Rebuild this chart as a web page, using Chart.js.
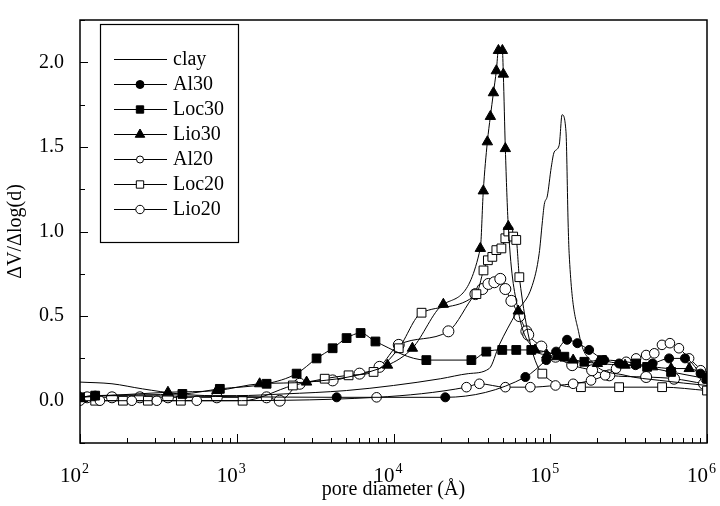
<!DOCTYPE html>
<html>
<head>
<meta charset="utf-8">
<title>Pore size distribution</title>
<script src="https://cdn.jsdelivr.net/npm/chart.js@4.4.1/dist/chart.umd.min.js"></script>
<style>
    html, body { margin: 0; padding: 0; background: #fff; }
    #grafico { display: block; }
</style>
</head>
<body>
<canvas id="grafico" width="720" height="506"></canvas>
<script>
// Series data (pore diameter in Å, dV/dlog(d))
const clayX = [100, 160, 250, 430, 700, 1000, 2000, 5000, 10000, 20000, 30000, 40800, 47300, 60700, 76700, 85000, 88900, 91600, 95800, 101500, 106000, 114000, 119000, 126000, 130000, 132000, 153000, 185000, 300000, 500000, 1000000];
const clayY = [0.11, 0.10, 0.07, 0.04, 0.03, 0.03, 0.04, 0.06, 0.09, 0.13, 0.16, 0.19, 0.33, 0.52, 0.68, 0.87, 1.05, 1.16, 1.21, 1.38, 1.47, 1.51, 1.69, 1.59, 1.05, 0.87, 0.39, 0.23, 0.15, 0.12, 0.09];

const al30X = [100, 125, 4340, 21400, 69400, 94400, 109000, 128000, 149000, 177000, 221000, 275000, 350000, 450000, 573000, 724000, 910000];
const al30Y = [0.02, 0.03, 0.02, 0.02, 0.14, 0.24, 0.29, 0.36, 0.34, 0.30, 0.24, 0.22, 0.21, 0.22, 0.25, 0.25, 0.16];

const loc30X = [100, 125, 450, 780, 1550, 2410, 3230, 4090, 5020, 6170, 7670, 16200, 31400, 39100, 49400, 60700, 75700, 123000, 165000, 214000, 353000, 415000, 590000, 1000000];
const loc30Y = [0.02, 0.03, 0.04, 0.07, 0.10, 0.16, 0.25, 0.31, 0.37, 0.40, 0.35, 0.24, 0.24, 0.29, 0.30, 0.30, 0.30, 0.26, 0.23, 0.24, 0.22, 0.20, 0.17, 0.13];

const lio30X = [100, 364, 746, 1400, 2790, 9160, 13200, 20800, 35800, 37400, 39700, 41500, 43400, 45300, 46700, 49500, 50200, 51700, 54000, 62500, 80000, 95000, 110000, 140000, 200000, 300000, 450000, 590000, 770000, 1000000];
const lio30Y = [0.02, 0.05, 0.06, 0.10, 0.11, 0.21, 0.31, 0.57, 0.90, 1.24, 1.53, 1.68, 1.82, 1.95, 2.07, 2.07, 1.93, 1.49, 1.03, 0.53, 0.30, 0.27, 0.26, 0.24, 0.22, 0.21, 0.20, 0.19, 0.19, 0.14];

const al20X = [100, 134, 214, 309, 556, 7800, 29200, 35300, 51700, 74600, 108000, 140000, 182000, 224000, 263000, 305000, 353000, 409000, 461000, 516000, 580000, 662000, 769000, 912000, 980000];
const al20Y = [0.0, 0.0, 0.0, 0.0, 0.0, 0.02, 0.08, 0.10, 0.08, 0.08, 0.09, 0.10, 0.12, 0.15, 0.19, 0.23, 0.25, 0.27, 0.28, 0.33, 0.34, 0.31, 0.25, 0.18, 0.13];

const loc20X = [125, 188, 271, 440, 1090, 2280, 3640, 5170, 7460, 10800, 15100, 33800, 37500, 40000, 42700, 45300, 48800, 51700, 54000, 58000, 60700, 63500, 89000, 157000, 275000, 517000, 1000000];
const loc20Y = [0.0, 0.0, 0.0, 0.0, 0.0, 0.09, 0.13, 0.15, 0.17, 0.31, 0.52, 0.63, 0.77, 0.83, 0.85, 0.89, 0.90, 0.96, 1.00, 0.97, 0.95, 0.73, 0.16, 0.08, 0.08, 0.08, 0.06];

const lio20X = [111, 160, 241, 364, 746, 1550, 1880, 2520, 4090, 6070, 8140, 10800, 22400, 33300, 36900, 40300, 44000, 48000, 51700, 56500, 63500, 70400, 72400, 87700, 108000, 138000, 185000, 238000, 409000, 616000, 957000];
const lio20Y = [0.02, 0.02, 0.02, 0.02, 0.02, 0.02, 0.0, 0.10, 0.12, 0.16, 0.20, 0.33, 0.41, 0.63, 0.66, 0.69, 0.70, 0.72, 0.66, 0.59, 0.50, 0.41, 0.39, 0.32, 0.26, 0.21, 0.18, 0.15, 0.14, 0.13, 0.10];

// Axis ticks
const xDecades = [2, 3, 4, 5, 6];
const yLabelTicks = [0.0, 0.5, 1.0, 1.5, 2.0];
const yMinorTicks = [-0.25, 0.25, 0.75, 1.25, 1.75, 2.25];

const FONTE = '"Liberation Serif", "DejaVu Serif", "Times New Roman", serif';

function pares(xs, ys) {
    return xs.map(function(x, i) { return { x: x, y: ys[i] }; });
}

function serie(label, xs, ys, estilo, raio, cheio, raioLegenda) {
    return {
        label: label,
        data: pares(xs, ys),
        borderColor: '#000',
        borderWidth: 1,
        cubicInterpolationMode: 'monotone',
        pointStyle: estilo || false,
        pointRadius: estilo ? raio : 0,
        pointBorderWidth: 1,
        pointBorderColor: '#000',
        pointBackgroundColor: cheio ? '#000' : '#fff',
        raioLegenda: raioLegenda
    };
}

const datasets = [
    serie('clay', clayX, clayY, null, 0, false, 0),
    serie('Al30', al30X, al30Y, 'circle', 4.5, true, 4),
    serie('Loc30', loc30X, loc30Y, 'rect', 6.2, true, 5.2),
    serie('Lio30', lio30X, lio30Y, 'triangle', 6, true, 5.5),
    serie('Al20', al20X, al20Y, 'circle', 4.8, false, 3.5),
    serie('Loc20', loc20X, loc20Y, 'rect', 6.2, false, 5.2),
    serie('Lio20', lio20X, lio20Y, 'circle', 5.5, false, 4.2)
];

/**
 * Frame, inward ticks, power-of-ten labels and the boxed legend
 */
const molduraPlugin = {
    id: 'moldura',
    afterDraw: function(chart) {
        const ctx = chart.ctx;
        const area = chart.chartArea;
        const sx = chart.scales.x;
        const sy = chart.scales.y;

        ctx.save();
        ctx.strokeStyle = '#000';
        ctx.lineWidth = 1.5;
        ctx.strokeRect(area.left, area.top, area.right - area.left, area.bottom - area.top);

        // y ticks, pointing inward
        ctx.lineWidth = 1;
        ctx.beginPath();
        yLabelTicks.forEach(function(v) {
            const py = Math.round(sy.getPixelForValue(v)) + 0.5;
            ctx.moveTo(area.left, py);
            ctx.lineTo(area.left + 8, py);
        });
        yMinorTicks.forEach(function(v) {
            const py = Math.round(sy.getPixelForValue(v)) + 0.5;
            ctx.moveTo(area.left, py);
            ctx.lineTo(area.left + 5, py);
        });

        // x ticks, decades and 2..9 minors
        xDecades.forEach(function(d) {
            const px = Math.round(sx.getPixelForValue(Math.pow(10, d))) + 0.5;
            ctx.moveTo(px, area.bottom);
            ctx.lineTo(px, area.bottom - 9);
            if (d < 6) {
                for (let m = 2; m <= 9; m++) {
                    const pm = Math.round(sx.getPixelForValue(m * Math.pow(10, d))) + 0.5;
                    ctx.moveTo(pm, area.bottom);
                    ctx.lineTo(pm, area.bottom - 5);
                }
            }
        });
        ctx.stroke();

        // x labels as 10^n, the "10" ends just at the tick
        ctx.fillStyle = '#000';
        ctx.textBaseline = 'alphabetic';
        xDecades.forEach(function(d) {
            const px = sx.getPixelForValue(Math.pow(10, d));
            ctx.font = '21px ' + FONTE;
            const w1 = ctx.measureText('10').width;
            const x0 = px - w1 + 1;
            ctx.textAlign = 'left';
            ctx.fillText('10', x0, 482);
            ctx.font = '14px ' + FONTE;
            ctx.fillText(String(d), x0 + w1 + 1, 473);
        });

        desenharLegenda(chart, ctx);
        ctx.restore();
    }
};

/**
 * Legend box in the upper left corner
 */
function desenharLegenda(chart, ctx) {
    const caixa = { x: 100.5, y: 24.5, w: 138, h: 218 };
    ctx.lineWidth = 1.2;
    ctx.strokeStyle = '#000';
    ctx.strokeRect(caixa.x, caixa.y, caixa.w, caixa.h);

    chart.data.datasets.forEach(function(ds, i) {
        const y = 59 + i * 25;
        ctx.lineWidth = 1;
        ctx.strokeStyle = '#000';
        ctx.beginPath();
        ctx.moveTo(114, y + 0.5);
        ctx.lineTo(167, y + 0.5);
        ctx.stroke();

        if (ds.pointStyle) {
            ctx.fillStyle = ds.pointBackgroundColor;
            ctx.strokeStyle = '#000';
            Chart.helpers.drawPoint(ctx, {
                pointStyle: ds.pointStyle,
                radius: ds.raioLegenda,
                rotation: 0,
                borderWidth: 1
            }, 140, y + 0.5);
        }

        ctx.fillStyle = '#000';
        ctx.font = '20px ' + FONTE;
        ctx.textAlign = 'left';
        ctx.textBaseline = 'middle';
        ctx.fillText(ds.label, 173, y + 1);
    });
}

function criarGrafico() {
    const ctx = document.getElementById('grafico');

    new Chart(ctx, {
        type: 'line',
        data: { datasets: datasets },
        options: {
            responsive: false,
            animation: false,
            layout: { padding: { top: 13, right: 13, left: 0, bottom: 0 } },
            scales: {
                x: {
                    type: 'logarithmic',
                    min: 100,
                    max: 1000000,
                    grid: { display: false },
                    border: { display: false },
                    ticks: { display: false },
                    title: {
                        display: true,
                        text: 'pore diameter (Å)',
                        color: '#000',
                        font: { family: FONTE, size: 20 },
                        padding: { top: 4, bottom: 4 }
                    },
                    afterFit: function(scale) { scale.height = 63; }
                },
                y: {
                    min: -0.25,
                    max: 2.25,
                    grid: { display: false },
                    border: { display: false },
                    ticks: {
                        stepSize: 0.25,
                        autoSkip: false,
                        padding: 8,
                        color: '#000',
                        font: { family: FONTE, size: 20 },
                        callback: function(v) {
                            return (Math.abs(v * 2 - Math.round(v * 2)) < 1e-6 && v >= 0 && v <= 2) ? v.toFixed(1) : '';
                        }
                    },
                    title: {
                        display: true,
                        text: 'ΔV/Δlog(d)',
                        color: '#000',
                        font: { family: FONTE, size: 20 },
                        padding: { top: 4, bottom: 4 }
                    },
                    afterFit: function(scale) { scale.width = 80; }
                }
            },
            plugins: {
                legend: { display: false },
                tooltip: { enabled: false }
            }
        },
        plugins: [molduraPlugin]
    });
}

document.addEventListener('DOMContentLoaded', function() {
    criarGrafico();
});
</script>
</body>
</html>
